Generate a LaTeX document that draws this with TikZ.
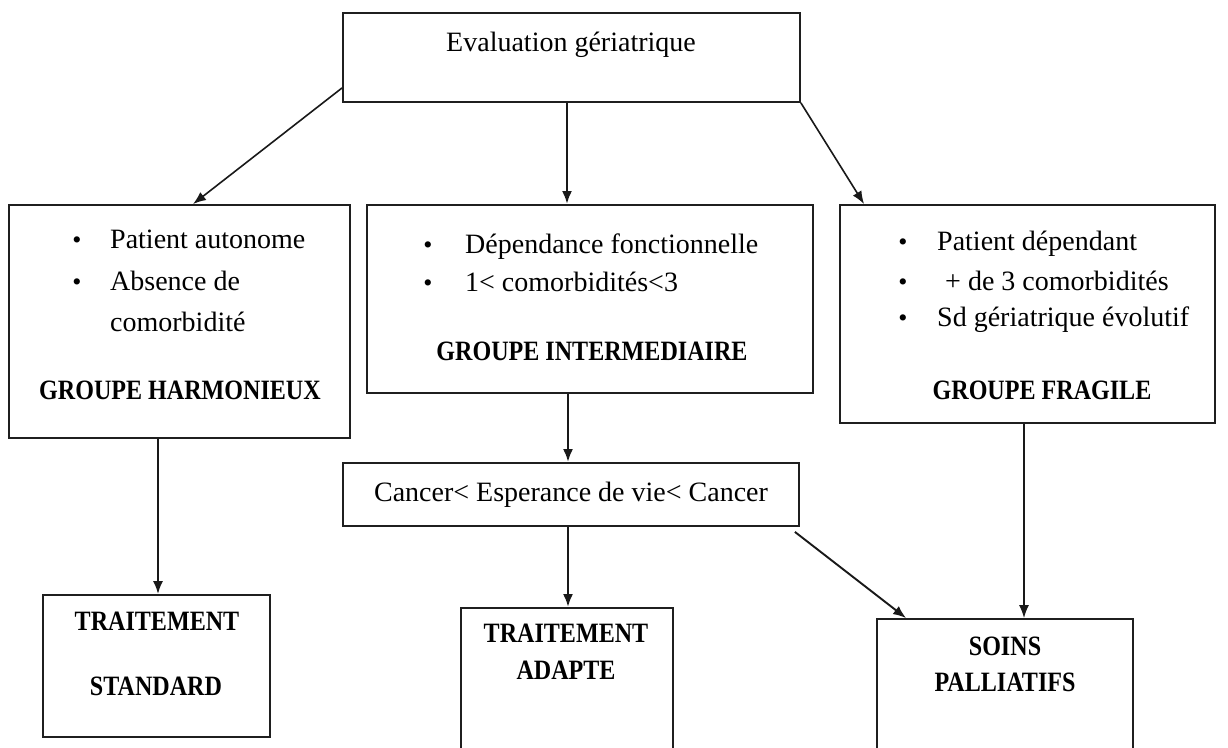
\documentclass[tikz,border=0pt]{standalone}
\usepackage{fontspec}
\setmainfont{Liberation Serif}
\newfontfamily\condserif[FakeStretch=0.86]{Liberation Serif}
\usetikzlibrary{arrows.meta}
\begin{document}
\begin{tikzpicture}[x=1pt,y=-1pt,
  box/.style={draw=black!88, line width=1.8pt, inner sep=0pt, fill=none},
  reg/.style={inner sep=0pt, font=\fontsize{28}{30}\selectfont},
  bld/.style={inner sep=0pt, font=\condserif\fontsize{28}{30}\selectfont\bfseries},
  bul/.style={inner sep=0pt, font=\fontsize{26}{28}\selectfont},
  arr/.style={-{Latex[length=13pt,width=10pt]}, line width=1.6pt, black!90},
  arrb/.style={arr, line width=2.5pt}]
\useasboundingbox (0,0) rectangle (1228,747);
\clip (0,0) rectangle (1228,747);
\fill[white] (0,0) rectangle (1228,747);

% boxes
\node[box, minimum width=457pt, minimum height=89pt] (top) at (571.5,57.5) {};
\node[box, minimum width=341pt, minimum height=233pt] (left) at (179.5,321.5) {};
\node[box, minimum width=446pt, minimum height=188pt] (mid) at (590,299) {};
\node[box, minimum width=375pt, minimum height=218pt] (right) at (1027.5,314) {};
\node[box, minimum width=456pt, minimum height=63pt] (cancer) at (571,494.5) {};
\node[box, minimum width=227pt, minimum height=142pt] (std) at (156.5,666) {};
\node[box, minimum width=212pt, minimum height=152pt] (adapte) at (567,684) {};
\node[box, minimum width=256pt, minimum height=151pt] (soins) at (1005,694.5) {};

% texts
\node[reg, anchor=mid] (ttop) at (571,49) {Evaluation gériatrique};

\node[bul, anchor=mid] (bl1) at (77,246) {•};
\node[reg, anchor=mid west] (tl1) at (110,246) {Patient autonome};
\node[bul, anchor=mid] (bl2) at (77,288) {•};
\node[reg, anchor=mid west] (tl2) at (110,288) {Absence de};
\node[reg, anchor=mid west] (tl3) at (110,329) {comorbidité};
\node[bld, anchor=mid] (tl4) at (180,397) {GROUPE HARMONIEUX};

\node[bul, anchor=mid] (bm1) at (428,251) {•};
\node[reg, anchor=mid west] (tm1) at (465,251) {Dépendance fonctionnelle};
\node[bul, anchor=mid] (bm2) at (428,289) {•};
\node[reg, anchor=mid west] (tm2) at (465,289) {1< comorbidités<3};
\node[bld, anchor=mid] (tm3) at (592,358) {GROUPE INTERMEDIAIRE};

\node[bul, anchor=mid] (br1) at (903,248) {•};
\node[reg, anchor=mid west] (tr1) at (937,248) {Patient dépendant};
\node[bul, anchor=mid] (br2) at (903,288) {•};
\node[reg, anchor=mid west] (tr2) at (945,288) {+ de 3 comorbidités};
\node[bul, anchor=mid] (br3) at (903,324) {•};
\node[reg, anchor=mid west] (tr3) at (937,324) {Sd gériatrique évolutif};
\node[bld, anchor=mid] (tr4) at (1042,397) {GROUPE FRAGILE};

\node[reg, anchor=mid] (tc) at (571,499) {Cancer< Esperance de vie< Cancer};

\node[bld, anchor=mid] (ts1) at (157,628) {TRAITEMENT};
\node[bld, anchor=mid] (ts2) at (156,693) {STANDARD};
\node[bld, anchor=mid] (ta1) at (566,640) {TRAITEMENT};
\node[bld, anchor=mid] (ta2) at (566,677) {ADAPTE};
\node[bld, anchor=mid] (tp1) at (1005,653) {SOINS};
\node[bld, anchor=mid] (tp2) at (1005,689) {PALLIATIFS};

% connectors
\draw[arr] ([yshift=15pt]top.south west) -- ([xshift=13.5pt]left.north);
\draw[arrb] ([xshift=-4.5pt]top.south) -- ([xshift=-23pt]mid.north);
\draw[arr] (top.south east) -- ([xshift=25pt]right.north west);
\draw[arr, line width=2pt] ([xshift=-21.5pt]left.south) -- ([xshift=1.5pt]std.north);
\draw[arrb] ([xshift=-22pt]mid.south) -- ([xshift=-3pt]cancer.north);
\draw[arrb] ([xshift=-3pt]cancer.south) -- ([xshift=1pt]adapte.north);
\draw[arr, line width=1.9pt] ([xshift=-5pt,yshift=-5pt]cancer.south east) -- ([xshift=30pt]soins.north west);
\draw[arr] ([xshift=-3.5pt]right.south) -- ([xshift=19pt]soins.north);
\end{tikzpicture}
\end{document}
